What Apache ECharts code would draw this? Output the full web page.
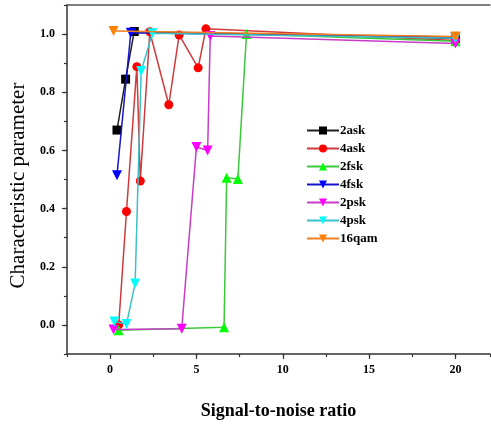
<!DOCTYPE html>
<html>
<head>
<meta charset="utf-8">
<script src="https://cdn.jsdelivr.net/npm/echarts@6/dist/echarts.min.js"></script>
<style>html,body{margin:0;padding:0;background:#fff;}#c{width:491px;height:425px;}</style>
</head>
<body>
<div id="c"></div>
<script>
// Data (x = SNR, y = characteristic parameter)
const seriesNames = ['2ask', '4ask', '2fsk', '4fsk', '2psk', '4psk', '16qam'];
const ask2 = [[0.4, 0.67], [0.9, 0.845], [1.4, 1.009], [20, 0.985]];
const ask4 = [[0.5, 0.0], [0.95, 0.39], [1.55, 0.888], [1.75, 0.495], [2.3, 1.008], [3.4, 0.757], [4.0, 0.997], [5.1, 0.884], [5.55, 1.018], [20, 0.978]];
const fsk2 = [[0.5, -0.018], [6.6, -0.008], [6.75, 0.506], [7.4, 0.502], [7.9, 1.0], [20, 0.975]];
const fsk4 = [[0.4, 0.515], [1.2, 1.005], [20, 0.99]];
const psk2 = [[0.2, -0.016], [4.15, -0.013], [5.0, 0.612], [5.65, 0.6], [5.8, 0.993], [20, 0.968]];
const psk4 = [[0.25, 0.012], [0.95, 0.003], [1.45, 0.142], [1.8, 0.873], [2.45, 1.003], [20, 0.986]];
const qam16 = [[0.2, 1.011], [20, 0.992]];
const xLabelTicks = [0, 5, 10, 15, 20];
const yLabelTicks = [0, 0.2, 0.4, 0.6, 0.8, 1.0];

const seriesData = [ask2, ask4, fsk2, fsk4, psk2, psk4, qam16];
const lineColors = ['#202020', '#d03a3a', '#3cc83c', '#1414c8', '#c83cc8', '#3cc0c8', '#f08020'];
const markColors = ['#000000', '#ff0000', '#00ff00', '#0000ff', '#ff00ff', '#00ffff', '#ff8000'];
const symbols = ['rect', 'circle', 'triangle', 'triangle', 'triangle', 'triangle', 'triangle'];
const rotations = [0, 0, 0, 180, 180, 180, 180];
const sizes = [9, 9, 10, 10, 10, 10, 10];

const fontFam = '"Liberation Serif", "Times New Roman", serif';
const chart = echarts.init(document.getElementById('c'), null, {renderer: 'canvas'});
const series = seriesNames.map((n, i) => ({
  name: n,
  type: 'line',
  data: seriesData[i],
  xAxisIndex: 0,
  yAxisIndex: 0,
  symbol: symbols[i],
  symbolRotate: rotations[i],
  symbolSize: sizes[i],
  showAllSymbol: true,
  animation: false,
  lineStyle: {color: lineColors[i], width: 1.5},
  itemStyle: {color: markColors[i]},
  z: 2 + i
}));

chart.setOption({
  animation: false,
  backgroundColor: '#ffffff',
  grid: {left: 65, right: 1, top: 5, bottom: 70},
  legend: {
    orient: 'vertical',
    left: 301,
    top: 119,
    itemWidth: 32,
    itemHeight: 10,
    itemGap: 5,
    textStyle: {fontFamily: fontFam, fontWeight: 'bold', fontSize: 13, color: '#000', padding: [0, 0, 0, -4]},
    data: seriesNames
  },
  xAxis: [
    {
      type: 'value', min: -2.5, max: 22, position: 'bottom',
      axisLine: {show: true, onZero: false, lineStyle: {color: '#333', width: 1.5}},
      axisTick: {show: true, customValues: xLabelTicks, length: 5, lineStyle: {color: '#333', width: 1.2}},
      axisLabel: {customValues: xLabelTicks, margin: 10, fontFamily: fontFam, fontWeight: 'bold', fontSize: 12, color: '#000'},
      splitLine: {show: false},
      name: 'Signal-to-noise ratio', nameLocation: 'middle', nameGap: 48,
      nameTextStyle: {fontFamily: fontFam, fontWeight: 'bold', fontSize: 18, color: '#000'}
    },
    {
      type: 'value', min: -2.5, max: 22, interval: 2.5, position: 'bottom',
      axisLine: {show: false, onZero: false},
      axisTick: {show: true, length: 3, lineStyle: {color: '#333', width: 1.2}},
      axisLabel: {show: false},
      splitLine: {show: false}
    },
    {
      type: 'value', min: -2.5, max: 22, position: 'top',
      axisLine: {show: true, onZero: false, lineStyle: {color: '#555', width: 1.5}},
      axisTick: {show: false}, axisLabel: {show: false}, splitLine: {show: false}
    }
  ],
  yAxis: [
    {
      type: 'value', min: -0.1, max: 1.1, position: 'left',
      axisLine: {show: true, onZero: false, lineStyle: {color: '#333', width: 1.5}},
      axisTick: {show: true, customValues: yLabelTicks, length: 5, lineStyle: {color: '#333', width: 1.2}},
      axisLabel: {customValues: yLabelTicks, margin: 12, formatter: v => v.toFixed(1), fontFamily: fontFam, fontWeight: 'bold', fontSize: 12, color: '#000'},
      splitLine: {show: false},
      name: 'Characteristic parameter', nameLocation: 'middle', nameGap: 27,
      nameTextStyle: {fontFamily: fontFam, fontSize: 21, color: '#000', padding: [0, 12, 0, 0]}
    },
    {
      type: 'value', min: -0.1, max: 1.1, interval: 0.1, position: 'left',
      axisLine: {show: false, onZero: false},
      axisTick: {show: true, length: 3, lineStyle: {color: '#333', width: 1.2}},
      axisLabel: {show: false},
      splitLine: {show: false}
    }
  ],
  series: series
});
</script>
</body>
</html>
